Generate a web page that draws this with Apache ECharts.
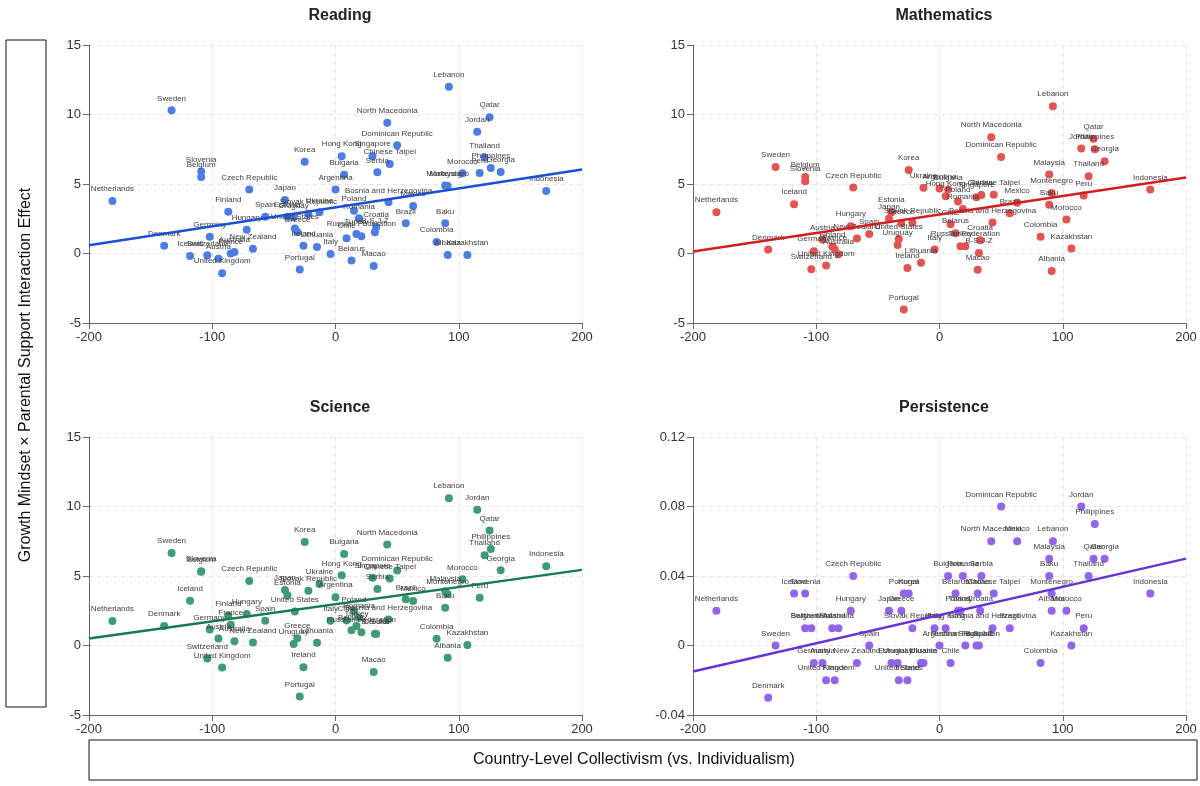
<!DOCTYPE html>
<html>
<head>
<meta charset="utf-8">
<title>Growth Mindset x Parental Support by Collectivism</title>
<script src="https://cdn.jsdelivr.net/npm/echarts@6/dist/echarts.min.js"></script>
<style>
  html, body { margin: 0; padding: 0; background: #fff; }
  #chart { width: 1200px; height: 786px; }
</style>
</head>
<body>
<div id="chart"></div>
<script>
const countries = [
  'Netherlands', 'Sweden', 'Denmark', 'Iceland', 'Slovenia', 'Belgium', 'Switzerland', 'Germany',
  'Austria', 'United Kingdom', 'France', 'Finland', 'Australia', 'Hungary', 'Czech Republic', 'New Zealand',
  'Spain', 'Japan', 'Estonia', 'Uruguay', 'United States', 'Greece', 'Portugal', 'Ireland',
  'Korea', 'Slovak Republic', 'Lithuania', 'Ukraine', 'Italy', 'Argentina', 'Hong Kong', 'Bulgaria',
  'Chile', 'Belarus', 'Poland', 'Turkey', 'Romania', 'Russian Federation', 'Singapore', 'Macao',
  'B-S-J-Z', 'Croatia', 'Serbia', 'North Macedonia', 'Bosnia and Herzegovina', 'Chinese Taipei', 'Dominican Republic', 'Brazil',
  'Mexico', 'Colombia', 'Baku', 'Malaysia', 'Montenegro', 'Albania', 'Lebanon', 'Morocco',
  'Kazakhstan', 'Jordan', 'Peru', 'Thailand', 'Qatar', 'Philippines', 'Georgia', 'Indonesia'
];

// country-level collectivism score (x)
const collectivism = [
  -181, -133, -139, -118, -109, -109, -104, -102,
  -95, -92, -85, -87, -82, -72, -70, -67,
  -57, -41, -39, -34, -33, -31, -29, -26,
  -25, -22, -15, -13, -4, 0, 5, 7,
  9, 13, 15, 17, 19, 21, 30, 31,
  32, 33, 34, 42, 43, 44, 50, 57,
  63, 82, 89, 89, 91, 91, 92, 103,
  107, 115, 117, 121, 125, 126, 134, 171
];

const reading = [
  3.77, 10.3, 0.56, -0.18, 5.9, 5.5, -0.13, 1.2,
  -0.37, -1.42, 0.0, 3.0, 0.1, 1.7, 4.6, 0.35,
  2.65, 3.85, 2.65, 2.6, 1.8, 1.55, -1.16, 0.56,
  6.6, 2.84, 0.47, 2.96, -0.03, 4.6, 7.0, 5.67,
  1.1, -0.5, 3.08, 1.4, 2.53, 1.24, 7.0, -0.9,
  1.52, 1.9, 5.84, 9.4, 3.68, 6.44, 7.78, 2.17,
  3.42, 0.83, 2.17, 4.9, 4.85, -0.1, 12.0, 5.77,
  -0.1, 8.76, 5.8, 6.9, 9.8, 6.15, 5.86, 4.5
];

const mathematics = [
  2.97, 6.23, 0.29, 3.55, 5.2, 5.5, -1.13, 0.16,
  1.0, -0.87, 0.3, 0.5, -0.05, 1.96, 4.75, 1.08,
  1.41, 2.52, 2.97, 0.62, 1.05, 2.16, -4.03, -1.05,
  6.0, 2.23, -0.66, 4.73, 0.29, 4.68, 4.12, 4.6,
  2.1, 1.46, 3.74, 0.53, 3.2, 0.53, 4.05, -1.17,
  0.03, 0.96, 4.2, 8.37, 2.23, 4.22, 6.95, 2.89,
  3.65, 1.2, 3.5, 5.68, 4.36, -1.25, 10.6, 2.45,
  0.36, 7.55, 4.17, 5.56, 8.25, 7.5, 6.64, 4.6
];

const science = [
  1.76, 6.66, 1.4, 3.22, 5.35, 5.3, -0.94, 1.16,
  0.51, -1.59, 1.49, 2.14, 0.31, 2.26, 4.64, 0.22,
  1.78, 4.0, 3.62, 0.1, 2.45, 0.53, -3.67, -1.56,
  7.45, 3.94, 0.19, 4.42, 1.78, 3.48, 5.05, 6.59,
  1.8, 1.1, 2.45, 1.4, 2.0, 0.95, 4.88, -1.9,
  0.85, 0.82, 4.06, 7.26, 1.87, 4.82, 5.39, 3.32,
  3.2, 0.48, 2.72, 3.9, 3.7, -0.89, 10.6, 4.76,
  0.03, 9.76, 3.44, 6.49, 8.27, 6.95, 5.41, 5.7
];

const persistence = [
  0.02, 0, -0.03, 0.03, 0.03, 0.01, 0.01, -0.01,
  -0.01, -0.02, -0.02, 0.01, 0.01, 0.02, 0.04, -0.01,
  0, 0.02, -0.01, -0.01, -0.02, 0.02, 0.03, -0.02,
  0.03, 0.01, -0.01, -0.01, 0.01, 0, 0.01, 0.04,
  -0.01, 0.03, 0.02, 0.02, 0.04, 0, 0, 0.03,
  0, 0.02, 0.04, 0.06, 0.01, 0.03, 0.08, 0.01,
  0.06, -0.01, 0.04, 0.05, 0.03, 0.02, 0.06, 0.02,
  0, 0.08, 0.01, 0.04, 0.05, 0.07, 0.05, 0.03
];

// fitted trend lines, end points
const readingTrend = [[-200, 0.6], [200, 6.05]];
const mathTrend = [[-200, 0.15], [200, 5.47]];
const scienceTrend = [[-200, 0.5], [200, 5.44]];
const persistenceTrend = [[-200, -0.015], [200, 0.05]];

const panels = [
  { title: 'Reading', values: reading, trend: readingTrend, dot: '#4c7de2', line: '#1d4fd6',
    yMin: -5, yMax: 15, yStep: 5 },
  { title: 'Mathematics', values: mathematics, trend: mathTrend, dot: '#e25353', line: '#d11f1f',
    yMin: -5, yMax: 15, yStep: 5 },
  { title: 'Science', values: science, trend: scienceTrend, dot: '#3e9b73', line: '#167a4f',
    yMin: -5, yMax: 15, yStep: 5 },
  { title: 'Persistence', values: persistence, trend: persistenceTrend, dot: '#9165e8', line: '#6434d6',
    yMin: -0.04, yMax: 0.12, yStep: 0.04 }
];

const gridPos = [
  { left: 89, top: 45 },
  { left: 693, top: 45 },
  { left: 89, top: 437 },
  { left: 693, top: 437 }
];

const FONT = "'Liberation Sans', Arial, Helvetica, sans-serif";
const axisColor = '#666';

const chart = echarts.init(document.getElementById('chart'), null, { renderer: 'canvas' });

const option = {
  animation: false,
  backgroundColor: '#fff',
  textStyle: { fontFamily: FONT },
  title: panels.map((p, i) => ({
    text: p.title,
    left: gridPos[i].left + 246,
    top: gridPos[i].top - 42,
    textAlign: 'center',
    textStyle: { fontSize: 16, fontWeight: 'bold', color: '#222', fontFamily: FONT }
  })),
  grid: gridPos.map(g => ({ left: g.left, top: g.top, width: 493, height: 278 })),
  xAxis: panels.map((p, i) => ({
    gridIndex: i,
    type: 'value',
    min: -200,
    max: 200,
    interval: 100,
    axisLine: { onZero: false, lineStyle: { color: axisColor, width: 1 } },
    axisTick: { show: true, length: 6, lineStyle: { color: axisColor } },
    axisLabel: { color: '#333', fontSize: 13, margin: 8 },
    splitLine: { show: true, lineStyle: { color: '#e2e2e2', type: [4, 4] } }
  })),
  yAxis: panels.map((p, i) => ({
    gridIndex: i,
    type: 'value',
    min: p.yMin,
    max: p.yMax,
    interval: p.yStep,
    axisLine: { show: true, onZero: false, lineStyle: { color: axisColor, width: 1 } },
    axisTick: { show: true, length: 6, lineStyle: { color: axisColor } },
    axisLabel: { color: '#333', fontSize: 13, margin: 8 },
    splitLine: { show: true, lineStyle: { color: '#e2e2e2', type: [4, 4] } }
  })),
  series: [],
  graphic: [
    {
      type: 'rect',
      shape: { x: 6, y: 40, width: 40, height: 667 },
      style: { fill: '#fff', stroke: '#111', lineWidth: 1 }
    },
    {
      type: 'text',
      x: 26,
      y: 375,
      rotation: Math.PI / 2,
      style: {
        text: 'Growth Mindset × Parental Support Interaction Effect',
        font: '16px ' + FONT,
        fill: '#111',
        textAlign: 'center',
        textVerticalAlign: 'middle'
      }
    },
    {
      type: 'rect',
      shape: { x: 89, y: 740, width: 1108, height: 40 },
      style: { fill: '#fff', stroke: '#111', lineWidth: 1 }
    },
    {
      type: 'text',
      x: 634,
      y: 760,
      style: {
        text: 'Country-Level Collectivism (vs. Individualism)',
        font: '16px ' + FONT,
        fill: '#111',
        textAlign: 'center',
        textVerticalAlign: 'middle'
      }
    }
  ]
};

panels.forEach((p, i) => {
  option.series.push({
    name: p.title,
    type: 'scatter',
    xAxisIndex: i,
    yAxisIndex: i,
    symbolSize: 8,
    itemStyle: { color: p.dot, opacity: 1 },
    label: {
      show: true,
      position: 'top',
      distance: 4,
      fontSize: 8,
      color: '#3d3d3d',
      fontFamily: FONT,
      formatter: params => params.data[2]
    },
    data: countries.map((c, k) => [collectivism[k], p.values[k], c])
  });
  option.series.push({
    name: p.title + ' trend',
    type: 'line',
    xAxisIndex: i,
    yAxisIndex: i,
    showSymbol: false,
    symbol: 'none',
    lineStyle: { color: p.line, width: 2.5 },
    data: p.trend,
    z: 3
  });
});

chart.setOption(option);

window.addEventListener('resize', () => {
  chart.resize();
});
</script>
</body>
</html>
